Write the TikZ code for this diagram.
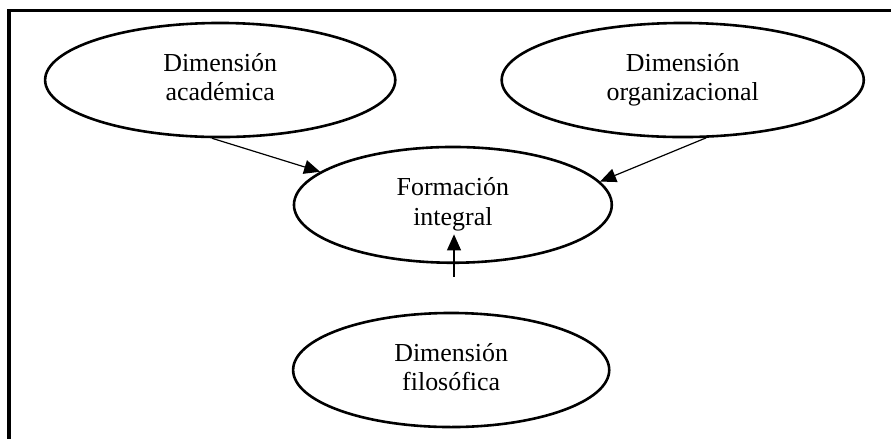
\documentclass[tikz,border=0pt]{standalone}
\usepackage{fontspec}
\setmainfont{Liberation Serif}
\usetikzlibrary{shapes.geometric,arrows.meta}
\begin{document}
\begin{tikzpicture}[
    elip/.style={draw, ellipse, line width=1.3pt, inner sep=0pt, align=center,
      font=\fontsize{13}{15}\selectfont, minimum height=2.01cm,
      execute at begin node={\rule{0pt}{14.5pt}},
      execute at end node={\rule[-3pt]{0pt}{3pt}}},
    flecha/.style={-{Triangle[length=8pt,width=7pt]}, line width=0.6pt}]
      \useasboundingbox (0,0) rectangle (15.70,-7.72);
      \draw[line width=1.6pt] (15.80,-0.18) -- (0.16,-0.18) -- (0.16,-7.80);

      \node[elip, minimum width=6.17cm] (acad) at (3.88,-1.41) {Dimensión\\académica};
      \node[elip, minimum width=6.38cm] (org) at (12.03,-1.41) {Dimensión\\organizacional};
      \node[elip, minimum width=5.60cm, minimum height=2.04cm] (form) at (7.98,-3.61) {Formación\\integral};
      \node[elip, minimum width=5.57cm] (filo) at (7.95,-6.52) {Dimensión\\filosófica};

      \coordinate (t0) at (8.00,-4.88);
      \coordinate (t1) at (8.00,-4.13);

      \draw[flecha] (acad.262) -- (form.166);
      \draw[flecha] (org.292) -- (form.9);
      \draw[flecha] (t0) -- (t1);
\end{tikzpicture}
\end{document}
